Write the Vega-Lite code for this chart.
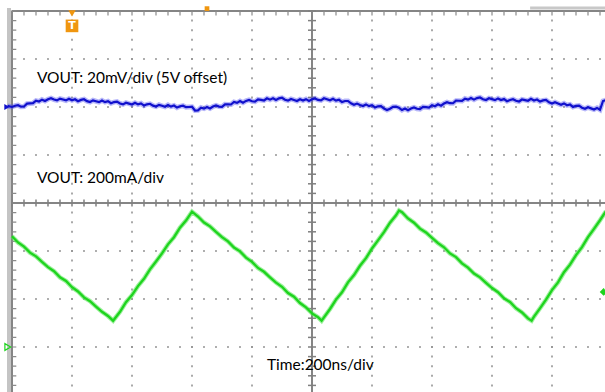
{
  "$schema": "https://vega.github.io/schema/vega-lite/v6.json",
  "width": 605,
  "height": 392,
  "padding": 0,
  "autosize": {"type": "none"},
  "background": "white",
  "config": {"view": {"stroke": null}},
  "datasets": {
    "blue": [
      {"t":-15,"v":2.022},{"t":0,"v":2.001},{"t":10,"v":2.027},{"t":20,"v":2.038},{"t":30,"v":2.006},{"t":40,"v":2.011},{"t":50,"v":2.070},{"t":60,"v":2.075},{"t":70,"v":2.079},{"t":80,"v":2.132},{"t":90,"v":2.115},{"t":100,"v":2.153},{"t":110,"v":2.126},{"t":120,"v":2.162},{"t":130,"v":2.184},{"t":140,"v":2.155},{"t":150,"v":2.139},{"t":160,"v":2.175},{"t":170,"v":2.156},{"t":180,"v":2.137},{"t":190,"v":2.172},{"t":200,"v":2.140},{"t":210,"v":2.162},{"t":220,"v":2.120},{"t":230,"v":2.148},{"t":240,"v":2.161},{"t":250,"v":2.122},{"t":260,"v":2.103},{"t":270,"v":2.139},{"t":280,"v":2.120},{"t":290,"v":2.101},{"t":300,"v":2.137},{"t":310,"v":2.102},{"t":320,"v":2.122},{"t":330,"v":2.078},{"t":340,"v":2.103},{"t":350,"v":2.113},{"t":360,"v":2.073},{"t":370,"v":2.054},{"t":380,"v":2.090},{"t":390,"v":2.071},{"t":400,"v":2.052},{"t":410,"v":2.088},{"t":420,"v":2.054},{"t":430,"v":2.075},{"t":440,"v":2.030},{"t":450,"v":2.056},{"t":460,"v":2.067},{"t":470,"v":2.028},{"t":480,"v":2.009},{"t":490,"v":2.045},{"t":500,"v":2.025},{"t":510,"v":2.006},{"t":520,"v":2.042},{"t":530,"v":2.008},{"t":540,"v":2.030},{"t":550,"v":1.988},{"t":560,"v":2.015},{"t":570,"v":2.027},{"t":580,"v":1.996},{"t":590,"v":2.000},{"t":600,"v":2.005},{"t":610,"v":1.927},{"t":620,"v":1.931},{"t":630,"v":1.986},{"t":640,"v":1.966},{"t":650,"v":2.000},{"t":660,"v":1.970},{"t":670,"v":2.009},{"t":680,"v":2.033},{"t":690,"v":2.008},{"t":700,"v":2.004},{"t":710,"v":2.056},{"t":720,"v":2.054},{"t":730,"v":2.052},{"t":740,"v":2.104},{"t":750,"v":2.087},{"t":760,"v":2.124},{"t":770,"v":2.090},{"t":780,"v":2.127},{"t":790,"v":2.148},{"t":800,"v":2.119},{"t":810,"v":2.111},{"t":820,"v":2.157},{"t":830,"v":2.147},{"t":840,"v":2.136},{"t":850,"v":2.180},{"t":860,"v":2.153},{"t":870,"v":2.182},{"t":880,"v":2.146},{"t":890,"v":2.180},{"t":900,"v":2.192},{"t":910,"v":2.152},{"t":920,"v":2.132},{"t":930,"v":2.166},{"t":940,"v":2.146},{"t":950,"v":2.125},{"t":960,"v":2.160},{"t":970,"v":2.134},{"t":980,"v":2.163},{"t":990,"v":2.126},{"t":1000,"v":2.160},{"t":1010,"v":2.179},{"t":1020,"v":2.148},{"t":1030,"v":2.137},{"t":1040,"v":2.181},{"t":1050,"v":2.162},{"t":1060,"v":2.139},{"t":1070,"v":2.171},{"t":1080,"v":2.133},{"t":1090,"v":2.151},{"t":1100,"v":2.103},{"t":1110,"v":2.125},{"t":1120,"v":2.125},{"t":1130,"v":2.076},{"t":1140,"v":2.046},{"t":1150,"v":2.071},{"t":1160,"v":2.042},{"t":1170,"v":2.021},{"t":1180,"v":2.054},{"t":1190,"v":2.018},{"t":1200,"v":2.037},{"t":1210,"v":1.991},{"t":1220,"v":2.014},{"t":1230,"v":2.020},{"t":1240,"v":1.969},{"t":1250,"v":1.939},{"t":1260,"v":1.963},{"t":1270,"v":2.004},{"t":1280,"v":2.006},{"t":1290,"v":1.984},{"t":1300,"v":1.937},{"t":1310,"v":1.968},{"t":1320,"v":1.934},{"t":1330,"v":1.970},{"t":1340,"v":1.992},{"t":1350,"v":1.963},{"t":1360,"v":1.954},{"t":1370,"v":2.002},{"t":1380,"v":1.996},{"t":1390,"v":1.989},{"t":1400,"v":2.038},{"t":1410,"v":2.016},{"t":1420,"v":2.055},{"t":1430,"v":2.028},{"t":1440,"v":2.072},{"t":1450,"v":2.101},{"t":1460,"v":2.079},{"t":1470,"v":2.078},{"t":1480,"v":2.132},{"t":1490,"v":2.130},{"t":1500,"v":2.126},{"t":1510,"v":2.174},{"t":1520,"v":2.153},{"t":1530,"v":2.186},{"t":1540,"v":2.154},{"t":1550,"v":2.186},{"t":1560,"v":2.199},{"t":1570,"v":2.162},{"t":1580,"v":2.145},{"t":1590,"v":2.183},{"t":1600,"v":2.164},{"t":1610,"v":2.144},{"t":1620,"v":2.179},{"t":1630,"v":2.145},{"t":1640,"v":2.165},{"t":1650,"v":2.120},{"t":1660,"v":2.145},{"t":1670,"v":2.162},{"t":1680,"v":2.129},{"t":1690,"v":2.115},{"t":1700,"v":2.157},{"t":1710,"v":2.143},{"t":1720,"v":2.130},{"t":1730,"v":2.170},{"t":1740,"v":2.135},{"t":1750,"v":2.156},{"t":1760,"v":2.112},{"t":1770,"v":2.138},{"t":1780,"v":2.146},{"t":1790,"v":2.098},{"t":1800,"v":2.071},{"t":1810,"v":2.098},{"t":1820,"v":2.071},{"t":1830,"v":2.045},{"t":1840,"v":2.075},{"t":1850,"v":2.036},{"t":1860,"v":2.051},{"t":1870,"v":2.002},{"t":1880,"v":2.023},{"t":1890,"v":2.028},{"t":1900,"v":1.985},{"t":1910,"v":1.962},{"t":1920,"v":1.994},{"t":1930,"v":1.971},{"t":1940,"v":1.948},{"t":1950,"v":1.981},{"t":1960,"v":1.943},{"t":1970,"v":2.125},{"t":1980,"v":2.146}
    ],
    "green": [
      {"t":0,"v":-0.693},{"t":20,"v":-0.822},{"t":40,"v":-0.910},{"t":60,"v":-1.034},{"t":80,"v":-1.112},{"t":100,"v":-1.226},{"t":120,"v":-1.335},{"t":140,"v":-1.421},{"t":160,"v":-1.549},{"t":180,"v":-1.625},{"t":200,"v":-1.754},{"t":220,"v":-1.843},{"t":240,"v":-1.966},{"t":260,"v":-2.045},{"t":280,"v":-2.158},{"t":300,"v":-2.267},{"t":320,"v":-2.354},{"t":337,"v":-2.452},
      {"t":360,"v":-2.266},{"t":380,"v":-2.066},{"t":400,"v":-1.919},{"t":420,"v":-1.731},{"t":440,"v":-1.579},{"t":460,"v":-1.381},{"t":480,"v":-1.219},{"t":500,"v":-1.051},{"t":520,"v":-0.862},{"t":540,"v":-0.713},{"t":560,"v":-0.514},{"t":580,"v":-0.366},{"t":600,"v":-0.181},
      {"t":620,"v":-0.281},{"t":640,"v":-0.406},{"t":660,"v":-0.486},{"t":680,"v":-0.602},{"t":700,"v":-0.712},{"t":720,"v":-0.800},{"t":740,"v":-0.929},{"t":760,"v":-1.007},{"t":780,"v":-1.137},{"t":800,"v":-1.227},{"t":820,"v":-1.353},{"t":840,"v":-1.433},{"t":860,"v":-1.548},{"t":880,"v":-1.658},{"t":900,"v":-1.746},{"t":920,"v":-1.875},{"t":940,"v":-1.953},{"t":960,"v":-2.084},{"t":980,"v":-2.174},{"t":1000,"v":-2.299},{"t":1020,"v":-2.379},{"t":1032,"v":-2.452},
      {"t":1040,"v":-2.381},{"t":1060,"v":-2.208},{"t":1080,"v":-2.013},{"t":1100,"v":-1.859},{"t":1120,"v":-1.654},{"t":1140,"v":-1.501},{"t":1160,"v":-1.308},{"t":1180,"v":-1.150},{"t":1200,"v":-0.947},{"t":1220,"v":-0.779},{"t":1240,"v":-0.606},{"t":1260,"v":-0.411},{"t":1280,"v":-0.257},{"t":1290,"v":-0.156},
      {"t":1300,"v":-0.193},{"t":1320,"v":-0.322},{"t":1340,"v":-0.411},{"t":1360,"v":-0.535},{"t":1380,"v":-0.614},{"t":1400,"v":-0.727},{"t":1420,"v":-0.836},{"t":1440,"v":-0.923},{"t":1460,"v":-1.051},{"t":1480,"v":-1.128},{"t":1500,"v":-1.257},{"t":1520,"v":-1.346},{"t":1540,"v":-1.470},{"t":1560,"v":-1.549},{"t":1580,"v":-1.662},{"t":1600,"v":-1.771},{"t":1620,"v":-1.858},{"t":1640,"v":-1.986},{"t":1660,"v":-2.063},{"t":1680,"v":-2.192},{"t":1700,"v":-2.281},{"t":1720,"v":-2.405},{"t":1732,"v":-2.452},
      {"t":1740,"v":-2.368},{"t":1760,"v":-2.194},{"t":1780,"v":-2.015},{"t":1800,"v":-1.814},{"t":1820,"v":-1.654},{"t":1840,"v":-1.443},{"t":1860,"v":-1.284},{"t":1880,"v":-1.085},{"t":1900,"v":-0.921},{"t":1920,"v":-0.712},{"t":1940,"v":-0.538},{"t":1960,"v":-0.359},{"t":1980,"v":-0.170}
    ],
    "ticksX": [
      {"t":0},{"t":40},{"t":80},{"t":120},{"t":160},{"t":200},{"t":240},{"t":280},{"t":320},{"t":360},{"t":400},{"t":440},{"t":480},{"t":520},{"t":560},{"t":600},{"t":640},{"t":680},{"t":720},{"t":760},{"t":800},{"t":840},{"t":880},{"t":920},{"t":960},{"t":1000},{"t":1040},{"t":1080},{"t":1120},{"t":1160},{"t":1200},{"t":1240},{"t":1280},{"t":1320},{"t":1360},{"t":1400},{"t":1440},{"t":1480},{"t":1520},{"t":1560},{"t":1600},{"t":1640},{"t":1680},{"t":1720},{"t":1760},{"t":1800},{"t":1840},{"t":1880},{"t":1920},{"t":1960}
    ],
    "ticksY": [
      {"v":-3.8},{"v":-3.6},{"v":-3.4},{"v":-3.2},{"v":-3.0},{"v":-2.8},{"v":-2.6},{"v":-2.4},{"v":-2.2},{"v":-2.0},{"v":-1.8},{"v":-1.6},{"v":-1.4},{"v":-1.2},{"v":-1.0},{"v":-0.8},{"v":-0.6},{"v":-0.4},{"v":-0.2},{"v":0.2},{"v":0.4},{"v":0.6},{"v":0.8},{"v":1.0},{"v":1.2},{"v":1.4},{"v":1.6},{"v":1.8},{"v":2.0},{"v":2.2},{"v":2.4},{"v":2.6},{"v":2.8},{"v":3.0},{"v":3.2},{"v":3.4},{"v":3.6},{"v":3.8},{"v":4.0}
    ]
  },
  "layer": [
    {
      "data": {"values": [{"t":200},{"t":400},{"t":600},{"t":800},{"t":1200},{"t":1400},{"t":1600},{"t":1800}]},
      "mark": {"type": "rule", "color": "#949494", "strokeWidth": 1.6, "strokeDash": [2, 7.6], "strokeDashOffset": 1},
      "encoding": {
        "x": {"field": "t", "type": "quantitative", "scale": {"domain": [-40, 1976.67], "nice": false, "zero": false}, "axis": null},
        "y": {"datum": 4, "type": "quantitative", "scale": {"domain": [-3.9375, 4.2292], "nice": false, "zero": false}, "axis": null},
        "y2": {"datum": -4}
      }
    },
    {
      "data": {"values": [{"v":3},{"v":2},{"v":1},{"v":-1},{"v":-2},{"v":-3}]},
      "mark": {"type": "rule", "color": "#949494", "strokeWidth": 1.6, "strokeDash": [2, 10], "strokeDashOffset": 1},
      "encoding": {
        "x": {"datum": 0, "type": "quantitative"},
        "x2": {"datum": 2000},
        "y": {"field": "v", "type": "quantitative"}
      }
    },
    {
      "data": {"values": [{"t":1000},{"t":0}]},
      "mark": {"type": "rule", "color": "#858585", "strokeWidth": 2},
      "encoding": {
        "x": {"field": "t", "type": "quantitative"},
        "y": {"datum": 4, "type": "quantitative"},
        "y2": {"datum": -4}
      }
    },
    {
      "data": {"values": [{"t":-10}]},
      "mark": {"type": "rule", "color": "#c4c4c4", "strokeWidth": 4},
      "encoding": {
        "x": {"field": "t", "type": "quantitative"},
        "y": {"datum": 4.06, "type": "quantitative"},
        "y2": {"datum": -4}
      }
    },
    {
      "data": {"values": [{"v":0},{"v":4}]},
      "mark": {"type": "rule", "color": "#858585", "strokeWidth": 2},
      "encoding": {
        "x": {"datum": 0, "type": "quantitative"},
        "x2": {"datum": 2000},
        "y": {"field": "v", "type": "quantitative"}
      }
    },
    {
      "data": {"values": [{"v":4.06}]},
      "mark": {"type": "rule", "color": "#c8c8c8", "strokeWidth": 3},
      "encoding": {
        "x": {"datum": 1727, "type": "quantitative"},
        "x2": {"datum": 2000},
        "y": {"field": "v", "type": "quantitative"}
      }
    },
    {
      "data": {"name": "ticksX"},
      "mark": {"type": "tick", "orient": "vertical", "size": 7, "thickness": 1.5, "color": "#808080", "opacity": 1},
      "encoding": {
        "x": {"field": "t", "type": "quantitative"},
        "y": {"datum": 0, "type": "quantitative"}
      }
    },
    {
      "data": {"name": "ticksX"},
      "mark": {"type": "tick", "orient": "vertical", "size": 5, "thickness": 1.2, "color": "#8a8a8a", "opacity": 1},
      "encoding": {
        "x": {"field": "t", "type": "quantitative"},
        "y": {"datum": 3.96, "type": "quantitative"}
      }
    },
    {
      "data": {"name": "ticksY"},
      "mark": {"type": "tick", "orient": "horizontal", "size": 8, "thickness": 1.5, "color": "#808080", "opacity": 1},
      "encoding": {
        "x": {"datum": 1000, "type": "quantitative"},
        "y": {"field": "v", "type": "quantitative"}
      }
    },
    {
      "data": {"name": "ticksY"},
      "mark": {"type": "tick", "orient": "horizontal", "size": 5, "thickness": 1.2, "color": "#8a8a8a", "opacity": 1},
      "encoding": {
        "x": {"datum": 6, "type": "quantitative"},
        "y": {"field": "v", "type": "quantitative"}
      }
    },
    {
      "data": {"name": "blue"},
      "mark": {"type": "line", "color": "#4a4af0", "strokeWidth": 5, "opacity": 0.4},
      "encoding": {
        "x": {"field": "t", "type": "quantitative"},
        "y": {"field": "v", "type": "quantitative"}
      }
    },
    {
      "data": {"name": "blue"},
      "mark": {"type": "line", "color": "#1010cc", "strokeWidth": 2.2},
      "encoding": {
        "x": {"field": "t", "type": "quantitative"},
        "y": {"field": "v", "type": "quantitative"}
      }
    },
    {
      "data": {"name": "green"},
      "mark": {"type": "line", "color": "#5ee65e", "strokeWidth": 4.5, "opacity": 0.6},
      "encoding": {
        "x": {"field": "t", "type": "quantitative"},
        "y": {"field": "v", "type": "quantitative"}
      }
    },
    {
      "data": {"name": "green"},
      "mark": {"type": "line", "color": "#1ed41e", "strokeWidth": 2.3},
      "encoding": {
        "x": {"field": "t", "type": "quantitative"},
        "y": {"field": "v", "type": "quantitative"}
      }
    },
    {
      "data": {"values": [
        {"t":83,"v":2.5,"label":"VOUT: 20mV/div (5V offset)"},
        {"t":83,"v":0.417,"label":"VOUT: 200mA/div"},
        {"t":850,"v":-3.479,"label":"Time:200ns/div"}
      ]},
      "mark": {"type": "text", "align": "left", "baseline": "alphabetic", "font": "Lato", "fontSize": 15.5, "color": "#000000"},
      "encoding": {
        "x": {"field": "t", "type": "quantitative"},
        "y": {"field": "v", "type": "quantitative"},
        "text": {"field": "label"}
      }
    },
    {
      "data": {"values": [{"t":200,"v":3.95,"shape":"triangle-down","size":55},{"t":650,"v":4.05,"shape":"square","size":22}]},
      "mark": {"type": "point", "filled": true, "opacity": 1, "color": "#f0960f"},
      "encoding": {
        "x": {"field": "t", "type": "quantitative"},
        "y": {"field": "v", "type": "quantitative"},
        "shape": {"field": "shape", "type": "nominal", "scale": null},
        "size": {"field": "size", "type": "quantitative", "scale": null}
      }
    },
    {
      "data": {"values": [{"t":200,"v":3.69}]},
      "mark": {"type": "point", "shape": "square", "filled": true, "opacity": 1, "color": "#f0960f", "size": 160},
      "encoding": {
        "x": {"field": "t", "type": "quantitative"},
        "y": {"field": "v", "type": "quantitative"}
      }
    },
    {
      "data": {"values": [{"t":200,"v":3.69,"label":"T"}]},
      "mark": {"type": "text", "font": "DejaVu Sans", "fontWeight": "bold", "fontSize": 11, "color": "#ffffff", "baseline": "middle", "align": "center"},
      "encoding": {
        "x": {"field": "t", "type": "quantitative"},
        "y": {"field": "v", "type": "quantitative"},
        "text": {"field": "label"}
      }
    },
    {
      "data": {"values": [{"t":-17,"v":2.0}]},
      "mark": {"type": "point", "shape": "triangle-right", "filled": true, "opacity": 1, "color": "#1010cc", "size": 35},
      "encoding": {
        "x": {"field": "t", "type": "quantitative"},
        "y": {"field": "v", "type": "quantitative"}
      }
    },
    {
      "data": {"values": [{"t":-14,"v":-3.0}]},
      "mark": {"type": "point", "shape": "triangle-right", "filled": false, "opacity": 1, "color": "#1ed41e", "size": 45, "strokeWidth": 1.2},
      "encoding": {
        "x": {"field": "t", "type": "quantitative"},
        "y": {"field": "v", "type": "quantitative"}
      }
    },
    {
      "data": {"values": [{"t":1972,"v":-1.854}]},
      "mark": {"type": "point", "shape": "diamond", "filled": true, "opacity": 1, "color": "#1ed41e", "size": 60},
      "encoding": {
        "x": {"field": "t", "type": "quantitative"},
        "y": {"field": "v", "type": "quantitative"}
      }
    }
  ]
}
